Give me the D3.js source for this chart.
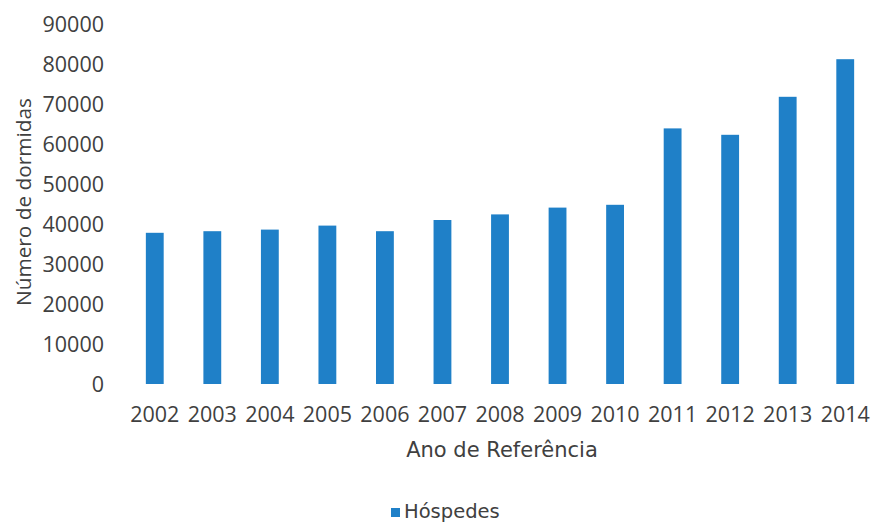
<!DOCTYPE html>
<html>
<head>
<meta charset="utf-8">
<script src="https://cdn.jsdelivr.net/npm/d3@7"></script>
<style>
  html, body { margin: 0; padding: 0; background: #fff; }
  svg { display: block; }
</style>
</head>
<body>
<svg id="chart" width="874" height="523"></svg>
<script>
const years = ["2002","2003","2004","2005","2006","2007","2008","2009","2010","2011","2012","2013","2014"];
const hospedes = [37800, 38200, 38600, 39600, 38200, 41000, 42400, 44100, 44800, 63900, 62300, 71800, 81200];
const yTicks = [0, 10000, 20000, 30000, 40000, 50000, 60000, 70000, 80000, 90000];
const seriesName = "Hóspedes";
const xTitle = "Ano de Referência";
const yTitle = "Número de dormidas";

const svg = d3.select("#chart");
const margin = { left: 126, right: 0, top: 24, bottom: 139 };
const W = 874, H = 523;
const textColor = "#404040";
const barColor = "#1f80c8";
const font = "'Open Sans', sans-serif";

const x = d3.scaleBand().domain(years).range([margin.left, W - margin.right]).paddingInner(0.69).paddingOuter(0.345);
const y = d3.scaleLinear().domain([0, 90000]).range([H - margin.bottom, margin.top]);

const data = years.map((yr, i) => ({ year: yr, value: hospedes[i] }));

svg.append("g").selectAll("rect").data(data).join("rect")
  .attr("x", d => x(d.year))
  .attr("y", d => y(d.value))
  .attr("width", x.bandwidth())
  .attr("height", d => y(0) - y(d.value))
  .attr("fill", barColor);

const yAxis = svg.append("g")
  .attr("transform", `translate(${margin.left - 22},0)`)
  .call(d3.axisLeft(y).tickValues(yTicks).tickSize(0).tickPadding(0).tickFormat(d3.format("d")));
yAxis.select(".domain").remove();
yAxis.selectAll("text").attr("font-family", font).attr("font-size", 21.5).attr("fill", textColor).attr("dy", "0.36em");

const xAxis = svg.append("g")
  .attr("transform", `translate(0,${y(0)})`)
  .call(d3.axisBottom(x).tickSize(0).tickPadding(23));
xAxis.select(".domain").remove();
xAxis.selectAll("text").attr("font-family", font).attr("font-size", 21.5).attr("fill", textColor);

svg.append("text")
  .attr("x", 502).attr("y", 457)
  .attr("text-anchor", "middle")
  .attr("font-family", "'DejaVu Sans', sans-serif").attr("font-size", 21)
  .attr("fill", textColor)
  .text(xTitle);

svg.append("text")
  .attr("transform", `translate(31,202) rotate(-90)`)
  .attr("text-anchor", "middle")
  .attr("font-family", font).attr("font-size", 20.8)
  .attr("fill", textColor)
  .text(yTitle);

const legend = svg.append("g").attr("transform", "translate(391,508)");
legend.append("rect").attr("x", 0).attr("y", 0).attr("width", 9).attr("height", 9).attr("fill", barColor);
legend.append("text").attr("x", 13).attr("y", 10)
  .attr("font-family", "'DejaVu Sans', sans-serif").attr("font-size", 19.5)
  .attr("fill", textColor).text(seriesName);
</script>
</body>
</html>
